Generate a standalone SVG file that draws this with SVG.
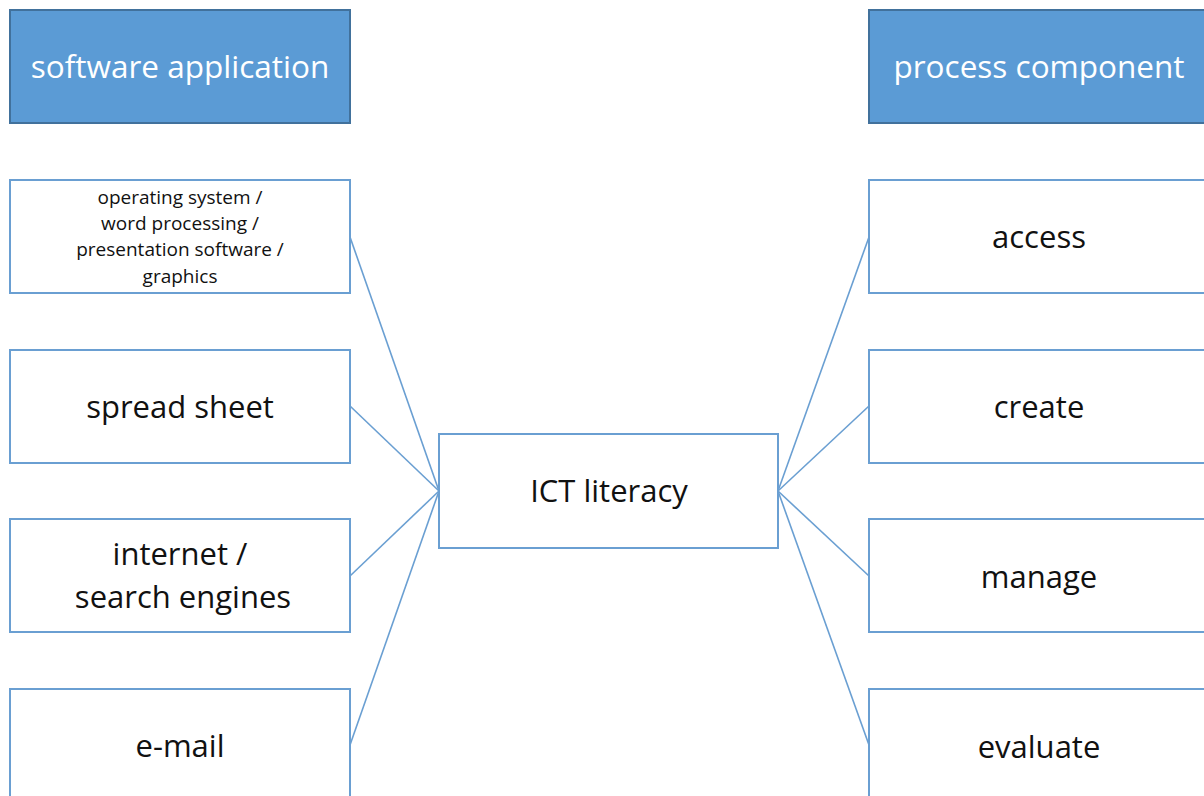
<svg xmlns="http://www.w3.org/2000/svg" width="1204" height="796" viewBox="0 0 1204 796">
<style>
.hdr{fill:#5B9BD5;stroke:#41719C;stroke-width:2}
.box{fill:#fff;stroke:#6A9FD2;stroke-width:2}
.t{font-family:"Open Sans","Noto Sans",sans-serif;text-anchor:middle;fill:#111}
.ht{font-family:"Open Sans","Noto Sans",sans-serif;text-anchor:middle;fill:#fff;font-size:31.5px}
.big{font-size:31px}
.sm{font-size:19px}
.c line{stroke:#6A9FD2;stroke-width:1.6}
</style>
<rect width="1204" height="796" fill="#fff"/>
<g class="c" id="connectors">
<line x1="350" y1="237" x2="439" y2="491"/>
<line x1="350" y1="406" x2="439" y2="491"/>
<line x1="350" y1="576" x2="439" y2="491"/>
<line x1="350" y1="745" x2="439" y2="491"/>
<line x1="869" y1="237" x2="778" y2="491"/>
<line x1="869" y1="406" x2="778" y2="491"/>
<line x1="869" y1="576" x2="778" y2="491"/>
<line x1="869" y1="745" x2="778" y2="491"/>
</g>
<g id="hdr-software"><rect class="hdr" x="10" y="10" width="340" height="113"/><text class="ht" x="180" y="78">software application</text></g>
<g id="hdr-process"><rect class="hdr" x="869" y="10" width="345" height="113"/><text class="ht" x="1039" y="78">process component</text></g>
<g id="os"><rect class="box" x="10" y="180" width="340" height="113"/>
<text class="t sm" x="180" y="204">operating system /</text>
<text class="t sm" x="180" y="230">word processing /</text>
<text class="t sm" x="180" y="256">presentation software /</text>
<text class="t sm" x="180" y="283">graphics</text></g>
<g id="spread"><rect class="box" x="10" y="350" width="340" height="113"/><text class="t big" x="180" y="418">spread sheet</text></g>
<g id="internet"><rect class="box" x="10" y="519" width="340" height="113"/><text class="t big" x="180" y="565">internet /</text><text class="t big" x="183" y="608">search engines</text></g>
<g id="email"><rect class="box" x="10" y="689" width="340" height="113"/><text class="t big" x="180" y="757">e-mail</text></g>
<g id="ict"><rect class="box" x="439" y="434" width="339" height="114"/><text class="t big" x="609" y="502">ICT literacy</text></g>
<g id="access"><rect class="box" x="869" y="180" width="345" height="113"/><text class="t big" x="1039" y="248">access</text></g>
<g id="create"><rect class="box" x="869" y="350" width="345" height="113"/><text class="t big" x="1039" y="418">create</text></g>
<g id="manage"><rect class="box" x="869" y="519" width="345" height="113"/><text class="t big" x="1039" y="588">manage</text></g>
<g id="evaluate"><rect class="box" x="869" y="689" width="345" height="113"/><text class="t big" x="1039" y="758">evaluate</text></g>
</svg>
